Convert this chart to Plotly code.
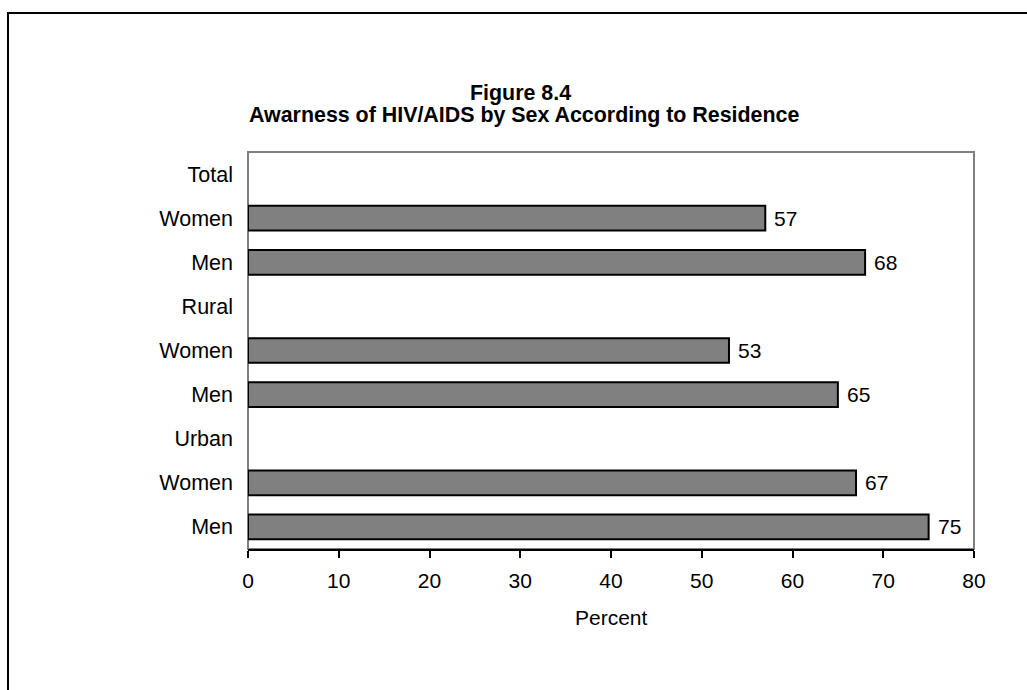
import plotly.graph_objects as go

# Rows listed top to bottom; group headings carry no bar
row_labels = ["Total", "Women", "Men", "Rural", "Women", "Men", "Urban", "Women", "Men"]
percent = [None, 57, 68, None, 53, 65, None, 67, 75]

x_ticks = [0, 10, 20, 30, 40, 50, 60, 70, 80]

W, H = 1027, 690
L, R, T, B = 248, 974, 152, 549  # plot area in pixels

n = len(row_labels)
ypos = [n - 1 - i for i in range(n)]

bar_y = [y for y, v in zip(ypos, percent) if v is not None]
bar_x = [v for v in percent if v is not None]

font_family = "Arial, 'Liberation Sans', sans-serif"

fig = go.Figure()
fig.add_trace(go.Bar(
    x=bar_x, y=bar_y, orientation="h", width=0.56,
    marker=dict(color="#808080", line=dict(color="#000000", width=2)),
    hoverinfo="x",
))

pw, ph = R - L, B - T


def px_x(px):
    return (px - L) / pw


def px_y(py):
    return (B - py) / ph


annotations = []
for v, y in zip(bar_x, bar_y):
    annotations.append(dict(
        x=v, y=y, xref="x", yref="y", text=str(v), showarrow=False,
        xanchor="left", yanchor="middle", xshift=7,
        font=dict(size=21, color="#000000", family=font_family),
    ))

annotations += [
    dict(x=px_x(520), y=px_y(93), xref="paper", yref="paper", text="<b>Figure 8.4</b>",
         showarrow=False, xanchor="center", yanchor="middle",
         font=dict(size=21.4, color="#000000", family=font_family)),
    dict(x=px_x(524), y=px_y(115), xref="paper", yref="paper",
         text="<b>Awarness of HIV/AIDS by Sex According to Residence</b>",
         showarrow=False, xanchor="center", yanchor="middle",
         font=dict(size=21.4, color="#000000", family=font_family)),
    dict(x=0.5, y=px_y(617), xref="paper", yref="paper", text="Percent",
         showarrow=False, xanchor="center", yanchor="middle",
         font=dict(size=21, color="#000000", family=font_family)),
]

shapes = [
    # plot-area frame (gray)
    dict(type="rect", xref="paper", yref="paper", x0=0, y0=0, x1=1, y1=1,
         line=dict(color="#808080", width=2), layer="below"),
    # outer chart border
    dict(type="rect", xref="paper", yref="paper",
         x0=px_x(8), y0=px_y(720), x1=px_x(1040), y1=px_y(13),
         line=dict(color="#000000", width=2), layer="above"),
]

fig.update_layout(
    width=W, height=H,
    margin=dict(l=L, r=W - R, t=T, b=H - B, pad=0),
    paper_bgcolor="#ffffff", plot_bgcolor="#ffffff",
    showlegend=False,
    font=dict(family=font_family, size=21, color="#000000"),
    annotations=annotations,
    shapes=shapes,
    xaxis=dict(
        range=[0, 80], tickvals=x_ticks, ticktext=[str(t) for t in x_ticks],
        showgrid=False, zeroline=False,
        showline=True, linecolor="#000000", linewidth=2,
        ticks="outside", ticklen=7, tickwidth=2, tickcolor="#000000",
        tickfont=dict(size=21, color="#000000"),
        ticklabelstandoff=5,
        fixedrange=True,
    ),
    yaxis=dict(
        range=[-0.5, n - 0.5], tickvals=ypos, ticktext=row_labels,
        showgrid=False, zeroline=False, showline=False,
        ticks="", tickfont=dict(size=21.5, color="#000000"),
        ticklabelstandoff=14,
        fixedrange=True,
    ),
)

fig.write_html("out.html")
